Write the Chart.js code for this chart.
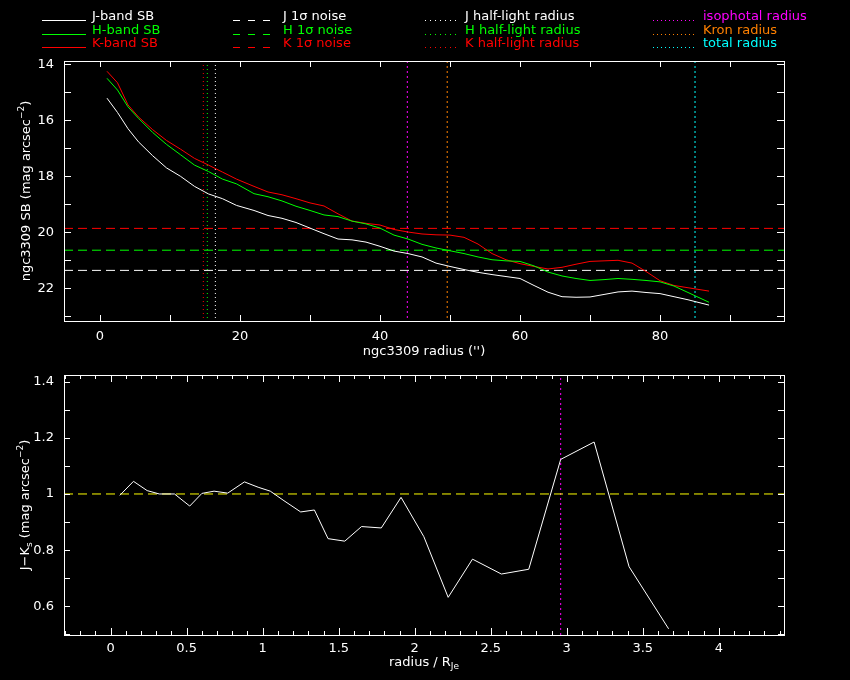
<!DOCTYPE html>
<html>
<head>
<meta charset="utf-8">
<script src="https://cdn.jsdelivr.net/npm/chart.js@4"></script>
<style>
  html, body { margin: 0; background: #000; }
  body { width: 850px; height: 680px; position: relative; overflow: hidden; }
  canvas { position: absolute; left: 0; }
  #sbChart { top: 0; }
  #colourChart { top: 350px; }
</style>
</head>
<body>
<canvas id="sbChart" width="850" height="362"></canvas>
<canvas id="colourChart" width="850" height="330"></canvas>
<script>
// surface brightness profiles (radius in arcsec)
const radius = [1, 2.5, 4, 5.5, 7.5, 9.5, 11.5, 13.5, 15.5, 17.5, 19.5, 22, 24, 26, 28, 30, 32, 34, 36, 38, 40, 42, 44, 46, 48, 50, 52, 54, 56, 58, 60, 62, 64, 66, 68, 70, 72, 74, 76, 78, 80, 82, 84, 87];
const sbJ = [15.21, 15.72, 16.3, 16.77, 17.26, 17.7, 18.0, 18.36, 18.63, 18.8, 19.04, 19.22, 19.4, 19.5, 19.65, 19.85, 20.05, 20.24, 20.27, 20.35, 20.5, 20.67, 20.76, 20.88, 21.1, 21.22, 21.33, 21.43, 21.51, 21.58, 21.65, 21.9, 22.14, 22.3, 22.32, 22.31, 22.22, 22.13, 22.1, 22.15, 22.19, 22.3, 22.41, 22.6];
const sbH = [14.5, 14.92, 15.52, 15.93, 16.43, 16.86, 17.23, 17.6, 17.83, 18.1, 18.27, 18.62, 18.73, 18.88, 19.07, 19.22, 19.38, 19.44, 19.6, 19.7, 19.85, 20.1, 20.24, 20.43, 20.56, 20.66, 20.76, 20.88, 20.98, 21.02, 21.04, 21.2, 21.42, 21.56, 21.65, 21.72, 21.69, 21.65, 21.68, 21.72, 21.77, 21.92, 22.15, 22.5];
const sbK = [14.25, 14.66, 15.45, 15.88, 16.33, 16.72, 17.03, 17.36, 17.6, 17.85, 18.1, 18.36, 18.56, 18.66, 18.8, 18.95, 19.06, 19.34, 19.6, 19.68, 19.74, 19.9, 19.99, 20.06, 20.09, 20.1, 20.18, 20.42, 20.76, 20.98, 21.12, 21.22, 21.31, 21.25, 21.14, 21.04, 21.02, 21.0, 21.1, 21.4, 21.73, 21.9, 21.98, 22.1];

// 1 sigma noise levels and radii
const noiseJ = 21.36, noiseH = 20.64, noiseK = 19.86;
const halfLightJ = 16.48, halfLightH = 15.33, halfLightK = 14.76;
const isoRadius = 43.9, kronRadius = 49.6, totalRadius = 85.0;

// J-Ks colour profile (radius / R_Je)
const colourRadius = [0.06, 0.15, 0.24, 0.32, 0.42, 0.52, 0.60, 0.68, 0.77, 0.88, 0.97, 1.05, 1.14, 1.25, 1.34, 1.43, 1.54, 1.65, 1.78, 1.91, 2.06, 2.22, 2.38, 2.57, 2.75, 2.96, 3.18, 3.41, 3.67];
const colourJK = [0.995, 1.045, 1.012, 1.0, 1.0, 0.957, 1.002, 1.01, 1.003, 1.043, 1.024, 1.01, 0.976, 0.936, 0.943, 0.841, 0.832, 0.884, 0.879, 0.988, 0.848, 0.632, 0.768, 0.715, 0.732, 1.123, 1.185, 0.741, 0.52];
const isoRadiusNorm = 2.96;
const colourRef = 1.0;

// axis ranges
const sbX = [-5.143, 97.71], sbY = [13.882, 23.168];
const colX = [-0.307, 4.429], colY = [0.498, 1.4235];

const FONT = '"DejaVu Sans", sans-serif';
const ORANGE = '#ff8000';

function curve(xs, ys, color, dash) {
    return { data: xs.map((x, i) => ({ x: x, y: ys[i] })), borderColor: color, borderWidth: 1, borderDash: dash || [], pointRadius: 0, showLine: true, fill: false };
}
function hLine(y, range, color, dash) { return curve(range, [y, y], color, dash); }
function vLine(x, range, color, dash) { return curve([x, x], range, color, dash); }

function drawRich(ctx, parts, x, y, align, color) {
    let w = 0;
    parts.forEach(p => {
        ctx.font = (p.sup || p.sub ? 9 : 13) + 'px ' + FONT;
        p.w = ctx.measureText(p.t).width;
        w += p.w;
    });
    let cx = align === 'center' ? x - w / 2 : x;
    ctx.fillStyle = color || '#fff';
    ctx.textAlign = 'left';
    ctx.textBaseline = 'middle';
    parts.forEach(p => {
        ctx.font = (p.sup || p.sub ? 9 : 13) + 'px ' + FONT;
        ctx.fillText(p.t, cx, y + (p.sup ? -5 : p.sub ? 4 : 0));
        cx += p.w;
    });
}

function tickValues(min, max, step) {
    const out = [];
    for (let i = Math.ceil(min / step - 1e-9); i * step <= max + 1e-9; i++) out.push(i * step);
    return out;
}
function isMultiple(v, step) { return Math.abs(v / step - Math.round(v / step)) < 1e-6; }

// PGPLOT-style box: frame with inward ticks on all four sides
const boxPlugin = {
    id: 'pgBox',
    afterDatasetsDraw(chart, args, opts) {
        const { ctx, chartArea: a, scales } = chart;
        ctx.save();
        ctx.strokeStyle = '#fff';
        ctx.lineWidth = 1;
        ctx.setLineDash([]);
        ctx.strokeRect(Math.round(a.left) + 0.5, Math.round(a.top) + 0.5, Math.round(a.right - a.left), Math.round(a.bottom - a.top));
        ctx.beginPath();
        tickValues(scales.x.min, scales.x.max, opts.xMinor).forEach(v => {
            const len = isMultiple(v, opts.xMajor) ? opts.majorLen : opts.minorLen;
            const px = Math.round(scales.x.getPixelForValue(v)) + 0.5;
            ctx.moveTo(px, a.bottom); ctx.lineTo(px, a.bottom - len);
            ctx.moveTo(px, a.top); ctx.lineTo(px, a.top + len);
        });
        tickValues(scales.y.min, scales.y.max, opts.yMinor).forEach(v => {
            const py = Math.round(scales.y.getPixelForValue(v)) + 0.5;
            ctx.moveTo(a.left, py); ctx.lineTo(a.left + opts.yLen, py);
            ctx.moveTo(a.right, py); ctx.lineTo(a.right - opts.yLen, py);
        });
        ctx.stroke();
        ctx.restore();
    }
};

const legendItems = [
    { label: 'J-band SB', color: '#fff', dash: [], col: 0, row: 0 },
    { label: 'H-band SB', color: '#00ff00', dash: [], col: 0, row: 1 },
    { label: 'K-band SB', color: '#ff0000', dash: [], col: 0, row: 2 },
    { label: 'J 1\u03c3 noise', color: '#fff', dash: [7, 8], col: 1, row: 0 },
    { label: 'H 1\u03c3 noise', color: '#00ff00', dash: [7, 8], col: 1, row: 1 },
    { label: 'K 1\u03c3 noise', color: '#ff0000', dash: [7, 8], col: 1, row: 2 },
    { label: 'J half-light radius', color: '#fff', dash: [1, 4], col: 2, row: 0 },
    { label: 'H half-light radius', color: '#00ff00', dash: [1, 4], col: 2, row: 1 },
    { label: 'K half-light radius', color: '#ff0000', dash: [1, 4], col: 2, row: 2 },
    { label: 'isophotal radius', color: '#ff00ff', dash: [1, 3], col: 3, row: 0 },
    { label: 'Kron radius', color: ORANGE, dash: [1, 3], col: 3, row: 1 },
    { label: 'total radius', color: '#00ffff', dash: [1, 3], col: 3, row: 2 }
];
const legendCols = [[42, 86, 92], [233, 277, 283], [425, 457, 465], [653, 694, 703]];
const legendRows = [17, 31, 44];

const sbTextPlugin = {
    id: 'sbText',
    afterDraw(chart) {
        const ctx = chart.ctx, a = chart.chartArea;
        ctx.save();
        legendItems.forEach(it => {
            const c = legendCols[it.col], y = legendRows[it.row];
            ctx.strokeStyle = it.color;
            ctx.lineWidth = 1;
            ctx.setLineDash(it.dash);
            ctx.beginPath();
            ctx.moveTo(c[0], y + 3.5); ctx.lineTo(c[1], y + 3.5);
            ctx.stroke();
            drawRich(ctx, [{ t: it.label }], c[2], y, 'left', it.color);
        });
        ctx.setLineDash([]);
        drawRich(ctx, [{ t: "ngc3309 radius ('')" }], (a.left + a.right) / 2, 352, 'center');
        ctx.translate(27, (a.top + a.bottom) / 2);
        ctx.rotate(-Math.PI / 2);
        drawRich(ctx, [{ t: 'ngc3309 SB (mag arcsec' }, { t: '\u22122', sup: true }, { t: ')' }], 0, 0, 'center');
        ctx.restore();
    }
};

const colTextPlugin = {
    id: 'colText',
    afterDraw(chart) {
        const ctx = chart.ctx, a = chart.chartArea;
        ctx.save();
        drawRich(ctx, [{ t: 'radius / R' }, { t: 'Je', sub: true }], (a.left + a.right) / 2, 313, 'center');
        ctx.translate(26, (a.top + a.bottom) / 2);
        ctx.rotate(-Math.PI / 2);
        drawRich(ctx, [{ t: 'J\u2212K' }, { t: 's', sub: true }, { t: ' (mag arcsec' }, { t: '\u22122', sup: true }, { t: ')' }], 0, 0, 'center');
        ctx.restore();
    }
};

const plainNumber = v => String(+Number(v).toFixed(3));

function axes(xr, yr, xStep, yStep, reverse, xPad, xHeight) {
    const tickFont = { family: FONT, size: 13 };
    return {
        x: {
            type: 'linear', min: xr[0], max: xr[1],
            grid: { display: false, drawTicks: false }, border: { display: false },
            ticks: { stepSize: xStep, color: '#fff', font: tickFont, padding: xPad, includeBounds: false, autoSkip: false, maxRotation: 0, callback: plainNumber },
            afterFit: s => { s.height = xHeight; }
        },
        y: {
            type: 'linear', min: yr[0], max: yr[1], reverse: reverse,
            grid: { display: false, drawTicks: false }, border: { display: false },
            ticks: { stepSize: yStep, color: '#fff', font: tickFont, padding: 10, includeBounds: false, autoSkip: false, callback: plainNumber },
            afterFit: s => { s.width = 64; }
        }
    };
}

const common = {
    responsive: false, animation: false, devicePixelRatio: 1,
    plugins: { legend: { display: false }, tooltip: { enabled: false } }
};

new Chart(document.getElementById('sbChart'), {
    type: 'scatter',
    data: {
        datasets: [
            curve(radius, sbJ, '#fff'),
            curve(radius, sbH, '#00ff00'),
            curve(radius, sbK, '#ff0000'),
            hLine(noiseJ, sbX, '#fff', [9, 5]),
            hLine(noiseH, sbX, '#00ff00', [9, 5]),
            hLine(noiseK, sbX, '#ff0000', [9, 5]),
            vLine(halfLightJ, sbY, '#fff', [1, 3]),
            vLine(halfLightH, sbY, '#00ff00', [1, 3]),
            vLine(halfLightK, sbY, '#ff0000', [1, 3]),
            vLine(isoRadius, sbY, '#ff00ff', [2, 3]),
            vLine(kronRadius, sbY, ORANGE, [2, 3]),
            vLine(totalRadius, sbY, '#00ffff', [2, 3])
        ]
    },
    options: Object.assign({}, common, {
        layout: { padding: { top: 61, left: 0, right: 66, bottom: 0 } },
        scales: axes(sbX, sbY, 20, 2, true, 8, 41),
        plugins: Object.assign({}, common.plugins, {
            pgBox: { xMinor: 10, xMajor: 10, yMinor: 1, majorLen: 6, minorLen: 6, yLen: 7 }
        })
    }),
    plugins: [boxPlugin, sbTextPlugin]
});

new Chart(document.getElementById('colourChart'), {
    type: 'scatter',
    data: {
        datasets: [
            curve(colourRadius, colourJK, '#fff'),
            hLine(colourRef, colX, '#ffff00', [9, 5]),
            vLine(isoRadiusNorm, colY, '#ff00ff', [2, 3])
        ]
    },
    options: Object.assign({}, common, {
        layout: { padding: { top: 25, left: 0, right: 66, bottom: 0 } },
        scales: axes(colX, colY, 0.5, 0.2, false, 6, 45),
        plugins: Object.assign({}, common.plugins, {
            pgBox: { xMinor: 0.1, xMajor: 0.5, yMinor: 0.1, majorLen: 7, minorLen: 4, yLen: 6 }
        })
    }),
    plugins: [boxPlugin, colTextPlugin]
});
</script>
</body>
</html>
